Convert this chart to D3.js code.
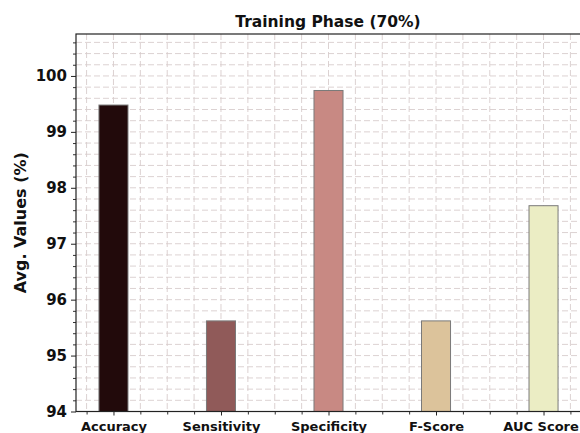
<!DOCTYPE html>
<html>
<head>
<meta charset="utf-8">
<script src="https://cdn.jsdelivr.net/npm/d3@7"></script>
<style>
  html, body { margin: 0; padding: 0; background: #fff; }
  svg { display: block; }
  svg text { font-family: "DejaVu Sans", sans-serif; }
</style>
</head>
<body>
<svg id="chart" width="580" height="433"></svg>
<script>
const categories = ["Accuracy", "Sensitivity", "Specificity", "F-Score", "AUC Score"];
const values = [99.48, 95.62, 99.74, 95.62, 97.68];
const barColors = ["#220a0b", "#905a59", "#c88983", "#dcc39b", "#ebedc4"];
const yTicks = [94, 95, 96, 97, 98, 99, 100];
const title = "Training Phase (70%)";
const yLabel = "Avg. Values (%)";

const FONT = "DejaVu Sans, sans-serif";
const W = 580, H = 433;
const margin = { left: 76, top: 34, right: -1, bottom: 21.5 };
const plotL = margin.left, plotR = W - margin.right, plotT = margin.top, plotB = H - margin.bottom;
const barW = 0.27;
const pad = 0.05 * (categories.length - 1 + barW);

const svg = d3.select("#chart");

const x = d3.scaleLinear()
  .domain([-barW / 2 - pad, categories.length - 1 + barW / 2 + pad])
  .range([plotL, plotR]);
const y = d3.scaleLinear().domain([94, 100.75]).range([plotB, plotT]);

const yMinor = d3.range(94, 100.75 + 1e-9, 0.2).map(v => +v.toFixed(2));
const xMinor = d3.range(-0.25, categories.length - 1 + 0.26, 0.25).filter(v => x(v) >= plotL && x(v) <= plotR);

svg.append("defs").append("clipPath").attr("id", "clip")
  .append("rect").attr("x", plotL).attr("y", plotT).attr("width", plotR - plotL).attr("height", plotB - plotT);

const grid = svg.append("g").attr("clip-path", "url(#clip)");
grid.selectAll("line.hg").data(yMinor).join("line")
  .attr("x1", plotL).attr("x2", plotR)
  .attr("y1", d => y(d)).attr("y2", d => y(d))
  .attr("stroke", "#d8cdcd").attr("stroke-width", 0.9).attr("stroke-dasharray", "6,3");
grid.selectAll("line.vg").data(xMinor).join("line")
  .attr("y1", plotT).attr("y2", plotB)
  .attr("x1", d => x(d)).attr("x2", d => x(d))
  .attr("stroke", "#d8cdcd").attr("stroke-width", 0.9).attr("stroke-dasharray", "6,3");

svg.append("g").attr("clip-path", "url(#clip)")
  .selectAll("rect").data(values).join("rect")
  .attr("x", (d, i) => x(i - barW / 2))
  .attr("width", (d, i) => x(i + barW / 2) - x(i - barW / 2))
  .attr("y", d => y(d))
  .attr("height", d => y(94) - y(d))
  .attr("fill", (d, i) => barColors[i])
  .attr("stroke", "#7a7a7a").attr("stroke-width", 1);

const yAxis = d3.axisLeft(y).tickValues(yTicks).tickFormat(d3.format("d")).tickSize(5).tickPadding(4);
const gy = svg.append("g").attr("transform", `translate(${plotL},0)`).call(yAxis)
  .attr("font-family", FONT);
gy.select(".domain").remove();
gy.selectAll("text").attr("font-size", 15).attr("font-weight", "bold").attr("fill", "#111");
gy.selectAll("line").attr("stroke", "#222");
const yMinorAxis = d3.axisLeft(y).tickValues(yMinor.filter(v => Math.abs(v - Math.round(v)) > 1e-6)).tickSize(3).tickFormat("");
const gym = svg.append("g").attr("transform", `translate(${plotL},0)`).call(yMinorAxis);
gym.select(".domain").remove();
gym.selectAll("line").attr("stroke", "#333");

const xAxis = d3.axisBottom(x).tickValues(d3.range(categories.length)).tickFormat(i => categories[i]).tickSize(4).tickPadding(6);
const gx = svg.append("g").attr("transform", `translate(0,${plotB})`).call(xAxis)
  .attr("font-family", FONT);
gx.select(".domain").remove();
gx.selectAll("text").attr("font-size", 13).attr("font-weight", "bold").attr("fill", "#111");
gx.selectAll("line").attr("stroke", "#222");
// keep the last label inside the picture
gx.selectAll(".tick").each(function () {
  const t = d3.select(this).select("text");
  const bb = this.getBoundingClientRect ? t.node().getBBox() : null;
  if (!bb) return;
  const tr = this.getAttribute("transform");
  const tx = +tr.match(/translate\(([-\d.]+)/)[1];
  const right = tx + bb.x + bb.width;
  if (right > W - 1) t.attr("dx", (W - 1 - right) + "px");
});
const xMinorAxis = d3.axisBottom(x).tickValues(xMinor.filter(v => Math.abs(v - Math.round(v)) > 1e-6)).tickSize(3).tickFormat("");
const gxm = svg.append("g").attr("transform", `translate(0,${plotB})`).call(xMinorAxis);
gxm.select(".domain").remove();
gxm.selectAll("line").attr("stroke", "#333");

svg.append("rect").attr("x", plotL).attr("y", plotT).attr("width", plotR - plotL).attr("height", plotB - plotT)
  .attr("fill", "none").attr("stroke", "#222").attr("stroke-width", 1.2);

svg.append("text").attr("x", 328).attr("y", 27)
  .attr("text-anchor", "middle").attr("font-family", FONT).attr("font-size", 15.5).attr("font-weight", "bold").attr("fill", "#111")
  .text(title);

svg.append("text").attr("transform", `translate(26,${(plotT + plotB) / 2}) rotate(-90)`)
  .attr("text-anchor", "middle").attr("font-family", FONT).attr("font-size", 16).attr("font-weight", "bold").attr("fill", "#111")
  .text(yLabel);
</script>
</body>
</html>
